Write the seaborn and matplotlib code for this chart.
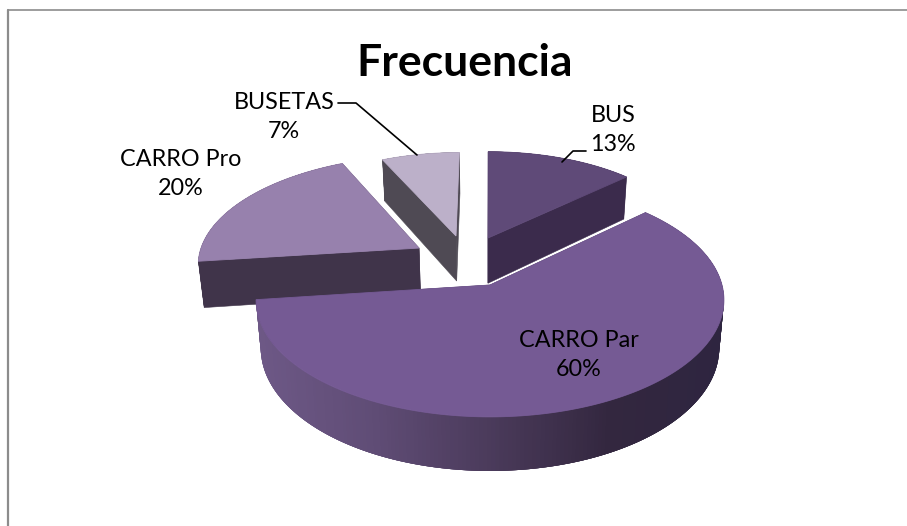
import numpy as np
import matplotlib
matplotlib.use('Agg')
import matplotlib.pyplot as plt
import seaborn as sns

# Data
categories = ['BUS', 'CARRO Par', 'CARRO Pro', 'BUSETAS']
percents = [13, 60, 20, 7]

# Look of each slice
top_colors = ['#5f4a78', '#755a94', '#9781ad', '#bcb0c9']
side_colors = ['#3b2b4c', '#3f3050', '#40344a', '#4f4a54']
wall_ramp = ['#6d5886', '#5f4c75', '#4a3a5a', '#33273f', '#2e2540']
shift_u = [-0.009, 0.0, -0.319, -0.155]
shift_v = [0.431, 0.0, 0.335, 0.451]
radius = [0.93, 1.0, 0.98, 0.90]
draw_order = [2, 3, 0, 1]

# Projection of the pie plane onto the figure (pixels)
cx, cy = 490, 285
persp = 0.128


def project(u, v):
    d = 1 + persp * v
    return 232 * u / d, 115 * v / d


def drop(x, y):
    return 0.98 * x, y + 47.5 + 0.05 * y


def px(x, y):
    return cx + np.asarray(x), cy - np.asarray(y)


def px_low(x, y):
    # y is measured upward on the plane, depth goes down the picture
    xl, yl = drop(x, -np.asarray(y))
    return cx + xl, cy + yl


sns.set_theme(style='white')
plt.rcParams['font.family'] = ['Lato', 'DejaVu Sans']

fig = plt.figure(figsize=(9.07, 5.26), dpi=100)
ax = fig.add_axes([0, 0, 1, 1])

# the pie gives the angles of the slices
wedges, _ = ax.pie(percents, startangle=90, counterclock=False)
thetas = [(w.theta1, w.theta2) for w in wedges]
for w in wedges:
    w.remove()
ax.set_aspect('auto')
ax.set_xlim(0, 907)
ax.set_ylim(526, 0)
ax.axis('off')

ramp = sns.blend_palette(wall_ramp, n_colors=120)

for i in draw_order:
    t1, t2 = thetas[i]
    s = radius[i]
    tt = np.radians(np.linspace(t1, t2, 240))
    u = shift_u[i] + s * np.cos(tt)
    v = shift_v[i] + s * np.sin(tt)
    x, y = project(u, v)
    tx, ty = project(shift_u[i], shift_v[i])
    layer = draw_order.index(i)

    # cut faces, the one lower in the picture goes on top
    ends = sorted([0, len(tt) - 1], key=lambda e: -y[e])
    for n, e in enumerate(ends):
        xs, ys = px([tx, x[e]], [ty, y[e]])
        xl, yl = px_low(np.array([tx, x[e]]), np.array([ty, y[e]]))
        ax.fill([xs[0], xs[1], xl[1], xl[0]], [ys[0], ys[1], yl[1], yl[0]],
                color=side_colors[i], lw=0.4, zorder=10 + layer + n * 0.1)

    # outer wall, pieces overlap so no seams show
    xa, ya = px(x, y)
    xb, yb = px_low(x, y)
    for k in range(len(tt) - 1):
        if i == 1:
            c = ramp[int(np.clip((x[k] + 234) / 468, 0, 1) * 119)]
        else:
            c = side_colors[i]
        j = min(k + 4, len(tt) - 1)
        ax.fill([xa[k], xa[j], xb[j], xb[k]], [ya[k], ya[j], yb[j], yb[k]],
                color=c, lw=0, zorder=10.3 + layer)

    # top face
    ptx, pty = px(tx, ty)
    ax.fill(np.r_[ptx, xa], np.r_[pty, ya], facecolor=top_colors[i],
            edgecolor=top_colors[i], lw=0.6, zorder=10.6 + layer)

# Frame of the chart area
ax.plot([8, 8], [526, 10], color='#8c8c8c', lw=1.6, zorder=1)
ax.plot([8, 907], [10, 10], color='#8c8c8c', lw=1.2, zorder=1)

# Title and labels
ax.text(465, 63, 'Frecuencia', ha='center', va='center', fontsize=32,
        fontweight='bold', color='black', zorder=30)

label_pos = [(613, 130), (579, 355), (181, 174), (284, 117)]
for name, pct, (lx, ly) in zip(categories, percents, label_pos):
    ax.text(lx, ly, f'{name}\n{pct}%', ha='center', va='center', fontsize=16.8,
            color='black', linespacing=1.5, zorder=30)

# Leader lines
ax.plot([338, 356, 417], [103, 103, 155], color='black', lw=1.2, zorder=31)
ax.plot([586, 573, 562], [151, 151, 162], color='black', lw=1.2, zorder=31)

fig.savefig('out.png', dpi=100, facecolor='white')
